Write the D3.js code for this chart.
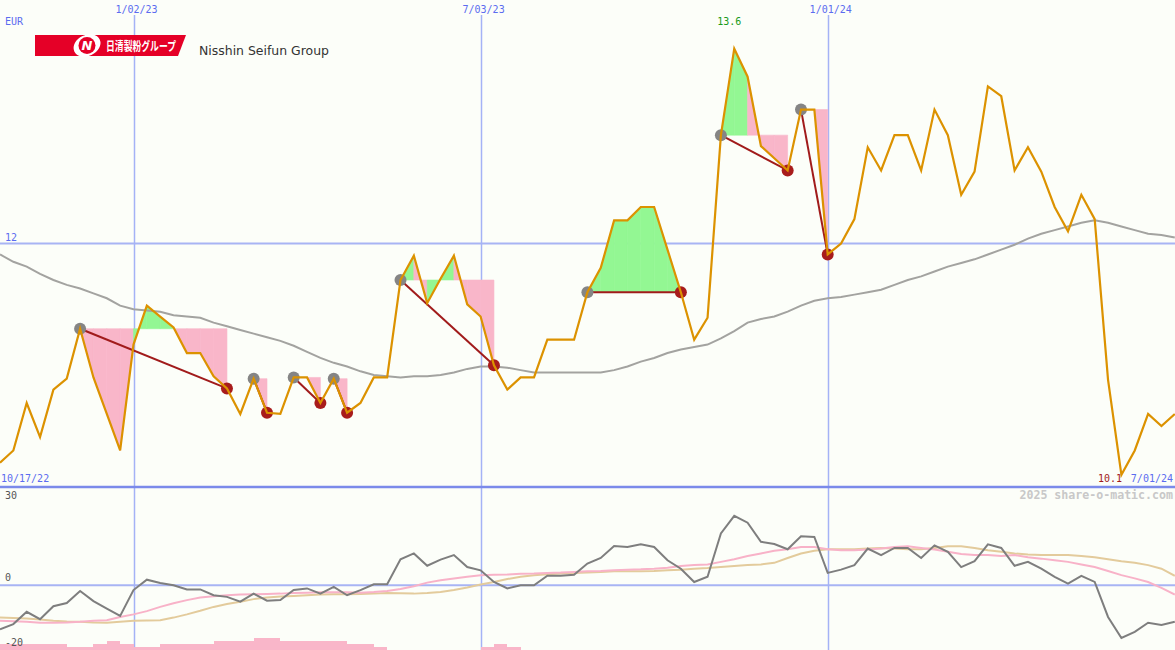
<!DOCTYPE html>
<html><head><meta charset="utf-8">
<script src="https://cdn.jsdelivr.net/npm/d3@7/dist/d3.min.js"></script>
<style>html,body{margin:0;padding:0;background:#fcfef9;}svg{display:block;}</style>
</head><body>
<script>
// ---- data (weekly closes, EUR) ----
const price = [10.20,10.30,10.69,10.41,10.80,10.89,11.30,10.90,10.60,10.30,
  11.17,11.49,11.40,11.31,11.10,11.10,10.91,10.81,10.60,10.89,
  10.61,10.60,10.90,10.90,10.69,10.89,10.61,10.69,10.90,10.90,
  11.70,11.90,11.51,11.71,11.90,11.50,11.40,11.00,10.80,10.90,
  10.90,11.21,11.21,11.21,11.60,11.80,12.19,12.19,12.30,12.30,
  11.95,11.60,11.21,11.39,12.89,13.60,13.37,12.80,12.70,12.60,
  13.10,13.10,11.91,12.00,12.20,12.79,12.60,12.89,12.89,12.60,
  13.10,12.89,12.40,12.59,13.29,13.21,12.60,12.79,12.59,12.30,
  12.10,12.40,12.20,10.88,10.10,10.30,10.60,10.50,10.60];
const movingAvg = [11.91,11.85,11.81,11.75,11.70,11.66,11.63,11.59,11.55,11.49,
  11.46,11.45,11.44,11.41,11.40,11.39,11.35,11.32,11.29,11.26,
  11.23,11.20,11.16,11.11,11.06,11.02,10.99,10.95,10.92,10.91,
  10.90,10.91,10.91,10.92,10.94,10.97,10.99,10.99,10.98,10.96,
  10.94,10.94,10.94,10.94,10.94,10.94,10.96,10.99,11.03,11.06,
  11.10,11.13,11.15,11.17,11.22,11.28,11.35,11.38,11.40,11.44,
  11.49,11.53,11.55,11.56,11.58,11.60,11.62,11.66,11.70,11.73,
  11.77,11.81,11.84,11.87,11.91,11.95,11.99,12.04,12.08,12.11,
  12.14,12.17,12.19,12.17,12.14,12.11,12.08,12.07,12.05];
const highIdx = [6,19,22,25,30,44,54,60];
const lowIdx  = [17,20,24,26,37,51,59,62];
const momentum = [-13.6,-12,-8.2,-10.5,-6.5,-5.5,-1.8,-4.9,-7.2,-9.5,
  -1.5,1.7,0.7,0,-1.3,-1.3,-3.1,-3.6,-5.1,-2.6,
  -4.8,-4.6,-1.5,-1.0,-2.6,-0.5,-3.1,-1.5,0.3,0.3,
  8.0,9.8,6.0,7.9,9.3,5.6,4.6,1.0,-1.0,0,
  0,2.9,2.9,3.2,6.7,8.4,12.1,11.8,12.6,11.8,
  7.7,5.1,1.0,2.6,16,21.4,19.3,13.4,12.7,11.1,
  15.1,14.9,3.8,4.8,6.2,11.3,9.3,11.5,11.5,8.4,
  12.3,10.3,5.6,7.4,12.6,11.5,6.0,7.2,5.1,2.6,
  0.5,2.9,1.0,-9.8,-16.3,-14.4,-11.6,-12.3,-11.3];
const momFast = [-11.0,-11.1,-11.3,-11.6,-11.6,-11.5,-11.3,-11.0,-10.8,-9.8,
  -9.0,-8.0,-6.7,-5.6,-4.6,-3.8,-3.4,-3.1,-2.9,-2.8,
  -2.7,-2.6,-2.4,-2.3,-2.2,-2.2,-2.2,-2.3,-2.1,-1.8,
  -1.2,-0.3,0.8,1.5,2.1,2.6,3.1,3.2,3.3,3.5,
  3.6,3.8,3.9,4.1,4.3,4.4,4.6,4.8,4.9,5.1,
  5.4,5.9,6.2,6.4,7.2,8.0,9.0,9.8,10.6,11.1,
  11.8,11.8,11.1,10.8,10.8,11.0,11.3,11.8,12.0,11.5,
  11.0,10.3,9.6,9.3,9.3,9.0,9.3,8.6,8.2,7.7,
  7.2,6.4,5.6,4.4,3.1,2.1,1.0,-0.8,-2.9];
const momSlow = [-10.0,-10.1,-10.3,-10.6,-11.0,-11.2,-11.3,-11.5,-11.6,-11.3,
  -11.0,-10.9,-10.8,-10.0,-9.0,-7.9,-6.7,-5.8,-5.1,-4.3,
  -3.8,-3.5,-3.3,-3.1,-2.9,-2.8,-2.8,-2.7,-2.6,-2.4,
  -2.5,-2.6,-2.4,-2.1,-1.5,-0.7,0.2,1.0,1.9,2.6,
  3.1,3.4,3.6,3.8,3.9,4.1,4.3,4.3,4.3,4.4,
  4.6,4.8,5.1,5.3,5.6,5.9,6.2,6.4,6.9,8.4,
  9.8,10.6,11.1,11.1,11.1,11.3,11.5,11.3,11.1,11.1,
  11.5,12.0,12.0,11.5,10.8,10.3,9.8,9.5,9.3,9.3,
  9.3,9.0,8.6,8.0,7.4,6.9,6.2,5.1,2.9];
const volBars = [2,2,2,2,2,1,1,2,3,2, 1,1,2,2,2,2,3,3,3,4, 4,3,3,3,3,3,2,2,1,0,
  0,0,0,0,0,0,1,2,1,0, 0,0,0,0,0,0,0,0,0,0, 0,0,0,0,0,0,0,0,0,0,
  0,0,0,0,0,0,0,0,0,0, 0,0,0,0,0,0,0,0,0,0, 0,0,0,0,0,0,0,0,0];
const dateIdx = [10,36,62];
const dateLabels = ["1/02/23","7/03/23","1/01/24"];
const startLabel = "10/17/22", endLabel = "7/01/24";
const priceTick = 12;
const lowerTicks = [30,0,-20];

// ---- scales ----
const W = 1175, H = 650;
const x = d3.scaleLinear().domain([0, price.length-1]).range([0, 1174.8]);
const y = d3.scaleLinear().domain([10,14]).range([487,0]);
const y2 = d3.scaleLinear().domain([-20,30]).range([650,488]);
const yb = d3.scaleLinear().domain([0,4]).range([650,638]);

const svg = d3.select("body").append("svg").attr("width",W).attr("height",H);
svg.append("rect").attr("width",W).attr("height",H).attr("fill","#fcfef9");

const mono = "'DejaVu Sans Mono', monospace";
const blue = "#5b6cf0";

// grid
svg.append("line").attr("x1",0).attr("x2",W).attr("y1",y(priceTick)).attr("y2",y(priceTick))
  .attr("stroke","#a8b4f4").attr("stroke-width",2);
svg.append("line").attr("x1",0).attr("x2",W).attr("y1",y2(0)).attr("y2",y2(0))
  .attr("stroke","#a8b4f4").attr("stroke-width",2);
svg.selectAll("line.vgrid").data(dateIdx).join("line").attr("class","vgrid")
  .attr("x1",d=>Math.round(x(d))+0.5).attr("x2",d=>Math.round(x(d))+0.5).attr("y1",15).attr("y2",H)
  .attr("stroke","#a4b2f6").attr("stroke-width",1.5);

// fills between pivot high level and price
const fills = [];
highIdx.forEach((h,k)=>{
  const l = lowIdx[k], lvl = price[h];
  for(let i=h;i<l;i++){
    fills.push({pts:[[x(i),y(lvl)],[x(i),y(price[i])],[x(i+1),y(price[i+1])],[x(i+1),y(lvl)]],
      up: price[i+1] >= lvl});
  }
});
svg.selectAll("polygon.f").data(fills).join("polygon").attr("class","f")
  .attr("points",d=>d.pts.map(p=>p.join(",")).join(" "))
  .attr("fill",d=>d.up?"#93f793":"#f9b6c9").attr("stroke",d=>d.up?"#93f793":"#f9b6c9").attr("stroke-width",0.6);

// main axis bottom line
svg.append("line").attr("x1",0).attr("x2",W).attr("y1",487).attr("y2",487)
  .attr("stroke","#7b8aea").attr("stroke-width",2.5);

// moving average
const line = (arr, ys) => d3.line().x((d,i)=>x(i)).y(d=>ys(d))(arr);
svg.append("path").attr("d",line(movingAvg,y)).attr("fill","none").attr("stroke","#a3a3a0").attr("stroke-width",2);

// pivot connectors
svg.selectAll("line.pv").data(highIdx).join("line").attr("class","pv")
  .attr("x1",d=>x(d)).attr("y1",d=>y(price[d]))
  .attr("x2",(d,k)=>x(lowIdx[k])).attr("y2",(d,k)=>y(price[lowIdx[k]]))
  .attr("stroke","#a11b1b").attr("stroke-width",2);
svg.selectAll("circle.hi").data(highIdx).join("circle").attr("class","hi")
  .attr("cx",d=>x(d)).attr("cy",d=>y(price[d])).attr("r",6).attr("fill","#858585");
svg.selectAll("circle.lo").data(lowIdx).join("circle").attr("class","lo")
  .attr("cx",d=>x(d)).attr("cy",d=>y(price[d])).attr("r",6).attr("fill","#a81c1c");

// price line
svg.append("path").attr("d",line(price,y)).attr("fill","none").attr("stroke","#dc9200").attr("stroke-width",2.2)
  .attr("stroke-linejoin","miter");

// lower panel
svg.selectAll("rect.vb").data(volBars.map((v,i)=>({v,i})).filter(d=>d.v>0)).join("rect").attr("class","vb")
  .attr("x",d=>x(d.i)).attr("width",d=>x(d.i+1)-x(d.i)).attr("y",d=>yb(d.v)).attr("height",d=>650-yb(d.v))
  .attr("fill","#f9b6c9").attr("shape-rendering","crispEdges");
svg.append("path").attr("d",line(momSlow,y2)).attr("fill","none").attr("stroke","#e3cb9c").attr("stroke-width",2);
svg.append("path").attr("d",line(momFast,y2)).attr("fill","none").attr("stroke","#f8b2c8").attr("stroke-width",2);
svg.append("path").attr("d",line(momentum,y2)).attr("fill","none").attr("stroke","#7e7e7e").attr("stroke-width",2);

// labels
const txt = (t,xx,yy,opt={}) => svg.append("text").text(t).attr("x",xx).attr("y",yy)
  .attr("font-family",opt.ff||mono).attr("font-size",opt.fs||10).attr("fill",opt.fill||blue)
  .attr("text-anchor",opt.anchor||"start").attr("font-weight",opt.fw||"normal");
txt("EUR",5,25);
dateIdx.forEach((d,k)=>txt(dateLabels[k], x(d)+3, 13, {anchor:"middle"}));
txt(String(priceTick),5,241);
txt(startLabel,1,482);
txt(endLabel,1173,482,{anchor:"end"});
const iMin = d3.minIndex(price), iMax = d3.maxIndex(price);
txt(d3.format(".1f")(price[iMin]),1122,482,{anchor:"end",fill:"#a11b1b"});
txt(d3.format(".1f")(price[iMax]),x(iMax)-5,25,{anchor:"middle",fill:"#1a9a1a"});
txt("2025 share-o-matic.com",1173,499,{anchor:"end",fill:"#c8c8c8",fs:11.6,fw:"bold"});
const lowerLabelY = {"30":499,"0":581,"-20":646};
lowerTicks.forEach(t=>txt(String(t),5,lowerLabelY[t],{fill:"#555"}));

// logo
const g = svg.append("g");
g.append("path").attr("d","M35,35 H186 L178,56 H35 Z").attr("fill","#e50027");
g.append("ellipse").attr("cx",87).attr("cy",45.5).attr("rx",14).attr("ry",10.5)
  .attr("transform","rotate(-25 87 45.5)").attr("fill","#fff");
g.append("circle").attr("cx",87).attr("cy",45.5).attr("r",8.5).attr("fill","#e50027");
g.append("text").text("N").attr("x",87).attr("y",50).attr("text-anchor","middle")
  .attr("font-family","'DejaVu Sans', sans-serif").attr("font-style","italic").attr("font-weight","bold")
  .attr("font-size",13).attr("fill","#fff");
g.append("text").text("日清製粉グループ").attr("x",106).attr("y",51)
  .attr("font-family","'Noto Sans CJK JP', sans-serif").attr("font-weight","bold").attr("font-size",12.5)
  .attr("fill","#fff").attr("textLength",70).attr("lengthAdjust","spacingAndGlyphs");
svg.append("text").text("Nisshin Seifun Group").attr("x",199).attr("y",55)
  .attr("font-family","'DejaVu Sans', sans-serif").attr("font-size",13).attr("fill","#333")
  .attr("textLength",130).attr("lengthAdjust","spacingAndGlyphs");
</script>
</body></html>
